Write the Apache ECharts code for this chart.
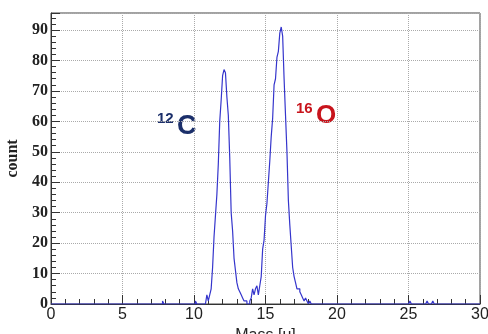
<!DOCTYPE html>
<html>
<head>
<meta charset="utf-8">
<script src="https://cdn.jsdelivr.net/npm/echarts@6/dist/echarts.min.js"></script>
<style>
  html, body {margin: 0; padding: 0; background: #fff;}
  #main {width: 488px; height: 334px;}
</style>
</head>
<body>
<div id="main"></div>
<script>
// histogram: 0.1 u bins, counts
const binWidth = 0.1;
const massMin = 0;
const massMax = 30;
const peakStart = 10.8;
const peakCounts = [
    0, 3, 1, 3, 5, 12, 22, 29, 36, 46, 60, 67, 75, 77, 76, 68, 62, 48, 30, 24,
    15, 11, 7, 5, 4, 3, 2, 1, 1, 0, 0, 1, 2, 5, 3, 5, 6, 3, 6, 9,
    18, 21, 29, 33, 40, 47, 55, 61, 72, 74, 81, 83, 89, 91, 88, 74, 62, 50, 34, 26,
    19, 12, 9, 7, 5, 5, 4, 3, 2, 1, 2, 1, 0, 1
];
// single stray entries outside the peaks
const strayMass = [7.8, 10.1, 25.1, 26.3, 26.7];
const strayCount = [1, 1, 1, 1, 1];

const yTicks = [0, 10, 20, 30, 40, 50, 60, 70, 80, 90];
const xTicks = [0, 5, 10, 15, 20, 25, 30];

const nBins = Math.round((massMax - massMin) / binWidth);
const counts = new Array(nBins).fill(0);
const p0 = Math.round((peakStart - massMin) / binWidth);
peakCounts.forEach((c, i) => { counts[p0 + i] = c; });
strayMass.forEach((m, i) => { counts[Math.round((m - massMin) / binWidth)] = strayCount[i]; });

const histData = counts.map((c, i) => [+(massMin + i * binWidth).toFixed(2), c]);
histData.push([massMax, 0]);

const chart = echarts.init(document.getElementById('main'));
const axisCol = '#333';

chart.setOption({
    animation: false,
    grid: {
        left: 51, right: 8, top: 13, bottom: 30,
        outerBoundsMode: 'none',
        show: true, borderColor: '#444', borderWidth: 1, backgroundColor: 'transparent'
    },
    xAxis: {
        type: 'value',
        min: massMin, max: massMax, interval: 5,
        name: 'Mass [u]',
        nameLocation: 'middle',
        nameGap: 19,
        nameTextStyle: {fontFamily: 'Liberation Sans', fontSize: 16, color: '#222'},
        axisLine: {lineStyle: {color: axisCol, width: 1}},
        axisTick: {inside: true, length: 9, lineStyle: {color: axisCol}},
        minorTick: {show: true, splitNumber: 5, length: 5, lineStyle: {color: axisCol}},
        splitLine: {show: true, lineStyle: {color: '#aaa', type: 'dotted'}},
        axisLabel: {
            fontFamily: 'Liberation Sans', fontSize: 16, color: '#222', margin: 3,
            showMinLabel: true, showMaxLabel: true,
            formatter: v => xTicks.includes(v) ? String(v) : ''
        }
    },
    yAxis: {
        type: 'value',
        min: 0, max: 95.6, interval: 10,
        name: 'count',
        nameLocation: 'middle',
        nameGap: 24,
        nameRotate: 90,
        nameTextStyle: {fontFamily: 'Liberation Serif', fontWeight: 'bold', fontSize: 16, color: '#222'},
        axisLine: {show: true, lineStyle: {color: axisCol, width: 1}},
        axisTick: {show: true, inside: true, length: 9, lineStyle: {color: axisCol}},
        minorTick: {show: true, splitNumber: 5, length: 5, lineStyle: {color: axisCol}},
        splitLine: {show: true, lineStyle: {color: '#aaa', type: 'dotted'}},
        axisLabel: {
            fontFamily: 'Liberation Serif', fontWeight: 'bold', fontSize: 16, color: '#222', margin: 3,
            showMaxLabel: false,
            formatter: v => yTicks.includes(v) ? String(v) : ''
        }
    },
    series: [{
        type: 'line',
        step: 'end',
        data: histData,
        symbol: 'none',
        lineStyle: {color: '#3535cc', width: 1.2},
        z: 3
    }],
    graphic: [
        {type: 'text', left: 157, top: 111, style: {text: '12', fontFamily: 'Liberation Sans', fontWeight: 'bold', fontSize: 15, fill: '#1b2f6a'}},
        {type: 'text', left: 177, top: 113, style: {text: 'C', fontFamily: 'Liberation Sans', fontWeight: 'bold', fontSize: 27, fill: '#1b2f6a'}},
        {type: 'text', left: 296, top: 101, style: {text: '16', fontFamily: 'Liberation Sans', fontWeight: 'bold', fontSize: 15, fill: '#c8141c'}},
        {type: 'text', left: 316, top: 103, style: {text: 'O', fontFamily: 'Liberation Sans', fontWeight: 'bold', fontSize: 26, fill: '#c8141c'}}
    ]
});
</script>
</body>
</html>
